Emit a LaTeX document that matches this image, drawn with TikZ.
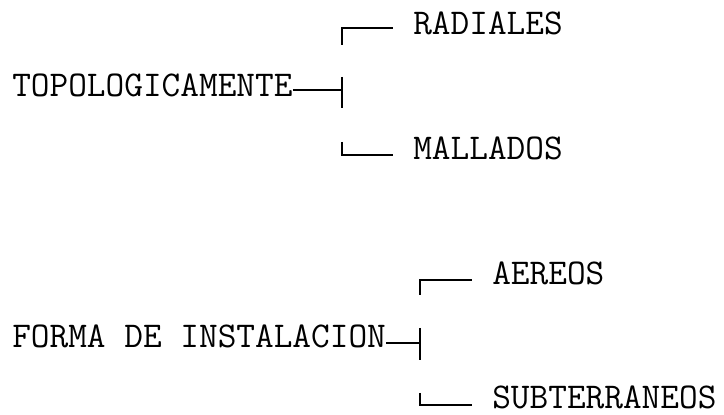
\documentclass[tikz,border=0pt]{standalone}
\usepackage{tikz}
\tikzset{>=latex}

\begin{document}
\begin{tikzpicture}
      \tikzstyle{item}=[inner sep=0pt,anchor=base west,font=\ttfamily\fontsize{25.8}{30}\selectfont]
      \tikzstyle{branch}=[line width=1.1pt]
      \useasboundingbox (0,0) rectangle (18.1,10.375);
      %%% Topologicamente
      \node (topo) at (0.3,7.95) [item] {TOPOLOGICAMENTE};
      \node (rad) at (10.325,9.5) [item] {RADIALES};
      \node (mall) at (10.325,6.375) [item] {MALLADOS};
      \coordinate (hub1) at (8.55,8.125);
      \draw[branch] ([yshift=-0.1cm]topo.east) -- ([yshift=-0.1cm]topo.east -| hub1);
      \draw[branch] ([yshift=0.325cm]hub1) -- ([yshift=-0.45cm]hub1);
      \draw[branch,shorten >=0.5cm] ([yshift=1.125cm]hub1) |- ([yshift=-0.1cm]rad.west);
      \draw[branch,shorten >=0.5cm] ([yshift=-1.3cm]hub1) |- ([yshift=-0.15cm]mall.west);
      %%% Forma de instalacion
      \node (forma) at (0.3,1.675) [item] {FORMA DE INSTALACION};
      \node (aer) at (12.3,3.25) [item] {AEREOS};
      \node (sub) at (12.3,0.16) [item] {SUBTERRANEOS};
      \coordinate (hub2) at (10.5,1.8);
      \draw[branch] ([yshift=-0.15cm]forma.east) -- ([yshift=-0.15cm]forma.east -| hub2);
      \draw[branch] ([yshift=0.375cm]hub2) -- ([yshift=-0.425cm]hub2);
      \draw[branch,shorten >=0.5cm] ([yshift=1.2cm]hub2) |- ([yshift=-0.15cm]aer.west);
      \draw[branch,shorten >=0.5cm] ([yshift=-1.25cm]hub2) |- ([yshift=-0.185cm]sub.west);
\end{tikzpicture}
\end{document}
